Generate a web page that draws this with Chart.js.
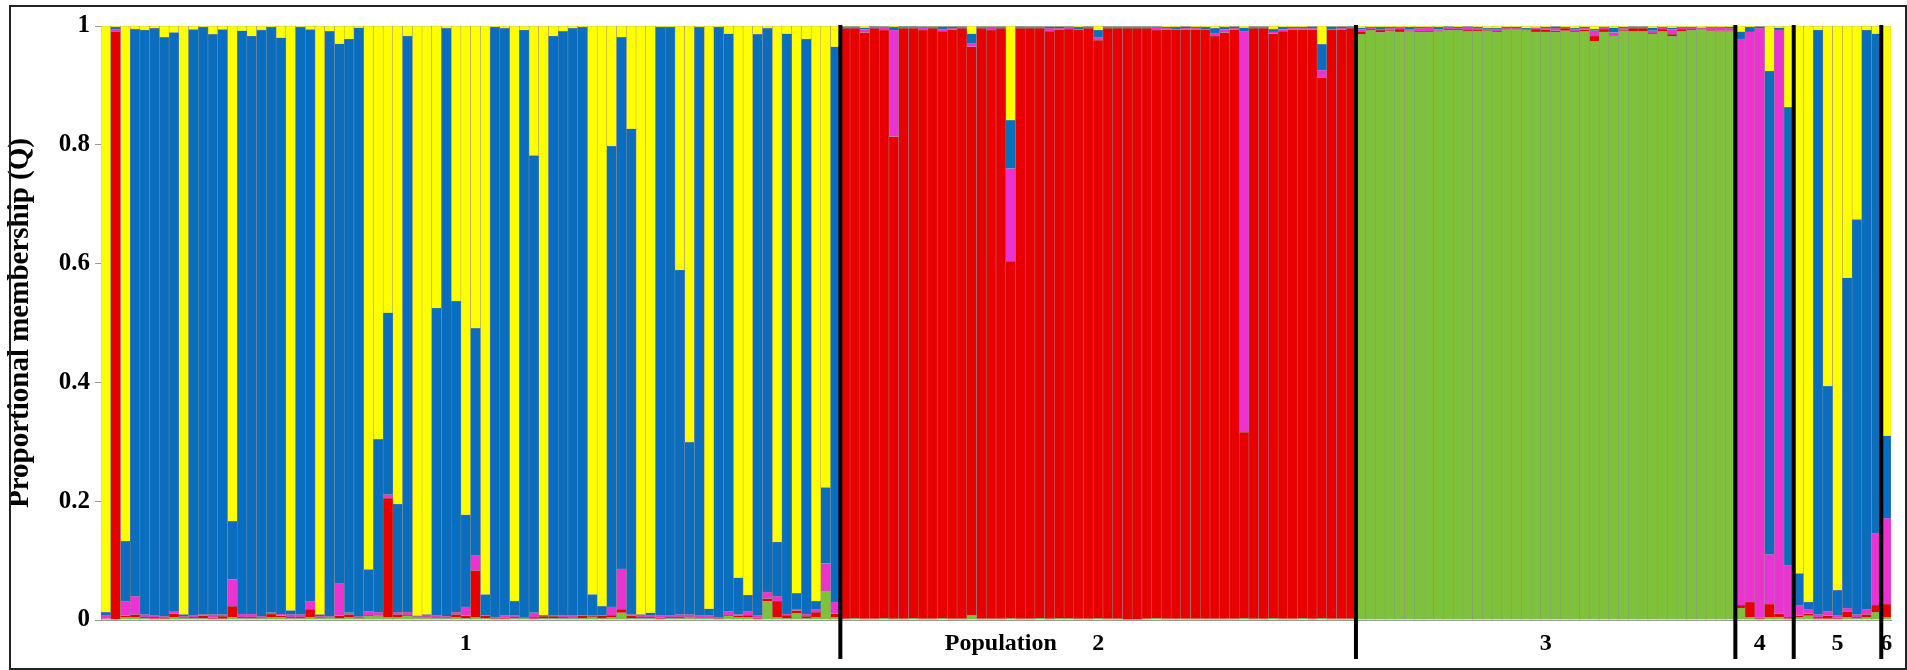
<!DOCTYPE html>
<html>
<head>
<meta charset="utf-8">
<title>Proportional membership (Q)</title>
<script src="https://cdn.jsdelivr.net/npm/chart.js@4.4.1/dist/chart.umd.min.js"></script>
<style>
    html, body { margin: 0; padding: 0; background: #fff; }
    #wrap { position: relative; width: 1907px; height: 670px; }
    #chartQ { position: absolute; left: 0; top: 0; }
    #frame { position: absolute; left: 9px; top: 5px; width: 1898px; height: 665px; box-sizing: border-box; border: 2px solid #222; pointer-events: none; }
</style>
</head>
<body>
<div id="wrap">
    <canvas id="chartQ" width="1907" height="670"></canvas>
    <div id="frame"></div>
</div>
<script>
// populations, in plot order, and how many individuals each one has
var popNames = ['1', '2', '3', '4', '5', '6'];
var popSizes = [76, 53, 39, 6, 9, 1];
var xTitle = 'Population';
var xTitleBar = 92;

// y axis tick labels
var yTicks = [0, 0.2, 0.4, 0.6, 0.8, 1];
var yTickText = ['0', '0.2', '0.4', '0.6', '0.8', '1'];

// membership of each individual in the 5 clusters (bottom to top of every bar)
var green = [
    .002, 0, .004, .004, .003, .002, .002, .004, .003, .003,
    .003, .002, .002, .005, .003, .003, .003, .004, .004, .003,
    .003, .004, .003, .004, .003, .004, .003, .007, .006, .004,
    .004, .007, .004, .004, .003, .003, .004, .003, .004, .003,
    .002, .002, .003, .003, .002, .003, .003, .003, .003, .003,
    .004, .003, .004, .012, .003, .003, .003, .002, .003, .003,
    .004, .003, .003, .002, .007, .004, .004, .002, .032, .004,
    .003, .011, .003, .004, .049, .004,
    // pop 2
    .002, .003, .002, .002, .003, .002, .002, .003, .002, .002, .003, .002, .002, .008, .002, .002, .002, .003,
    .002, .002, .003, .002, .003, .003, .002, .002, .003, .002, .002, .001, .001, .002, .003, .002, .002, .002,
    .002, .002, .002, .002, .002, .003, .002, .002, .003, .002, .002, .003, .002, .003, .002, .002, .002,
    // pop 3
    .986, .993, .989, .992, .99, .991, .99, .99, .991, .993, .993, .991, .991, .992, .99, .994, .994, .993, .99, .99,
    .99, .992, .99, .991, .974, .99, .983, .992, .991, .991, .987, .991, .983, .991, .993, .994, .992, .991, .991,
    // pop 4, 5, 6
    .02, .004, .002, .004, .005, .002,
    .004, .007, .002, .002, .002, .004, .003, .004, .013,
    .004
];
var red = [
    0, .99, .003, .005, .002, .003, .001, .007, .001, .002,
    .004, .002, .004, .018, .002, .002, .001, .006, .003, .002,
    .002, .014, .001, .001, .004, .005, .001, .001, .001, .201,
    .005, .001, .001, .001, .001, .001, .005, .004, .079, .004,
    .001, .002, .002, .001, .003, .003, .003, .002, .001, .004,
    .002, .004, .004, .006, .004, .002, .002, .002, .002, .002,
    .001, .001, .001, .001, .001, .003, .004, .002, .004, .028,
    .005, .005, .003, .009, 0, .007,
    .994, .993, .987, .994, .99, .812, .994, .993, .991, .994, .988, .992, .994, .957, .994, .991, .994, .601,
    .994, .994, .993, .989, .991, .992, .992, .994, .973, .994, .994, .995, .995, .994, .99, .992, .992, .992,
    .992, .992, .981, .987, .992, .313, .994, .994, .984, .989, .992, .991, .992, .91, .992, .992, .994,
    .004, .002, .004, .002, .005, .001, .001, .001, .001, .002, .002, .002, .002, .001, .001, .001, .001, .001, .005, .004,
    .002, .004, .001, .003, .009, .005, .001, .002, .005, .005, .001, .004, .003, .004, .002, .001, .001, .001, .001,
    .005, .026, .002, .023, .006, .003,
    .003, .004, .003, .005, .002, .01, .002, .005, .012,
    .023
];
var pink = [
    .005, .005, .025, .031, .004, .002, .003, .004, .002, .002,
    .002, .005, .003, .045, .005, .005, .002, .002, .003, .004,
    .004, .014, .002, .001, .054, .003, .002, .006, .006, .006,
    .004, .005, .001, .002, .004, .002, .004, .015, .025, .001,
    .002, .004, .003, .001, .007, .001, .002, .002, .003, .001,
    .002, .001, .014, .068, .002, .002, .003, .003, .003, .004,
    .004, .003, .003, .002, .006, .002, .007, .004, .011, .008,
    .002, .002, .004, .005, .046, .019,
    .001, .001, .005, .002, .004, .179, .002, .002, .004, .001, .004, .002, .001, .005, .001, .004, .001, .156,
    .002, .001, .001, .005, .002, .002, .001, .001, .005, .001, .001, .001, .001, .001, .004, .002, .001, .002,
    .002, .001, .005, .005, .002, .675, .001, .001, .003, .003, .002, .002, .002, .013, .001, .002, .002,
    .004, .002, .002, .002, .002, .003, .005, .006, .002, .002, .001, .004, .003, .002, .004, .001, .001, .001, .001, .002,
    .004, .001, .004, .002, .009, .002, .005, .002, .001, .001, .004, .002, .008, .002, .002, .001, .004, .005, .004,
    .953, .96, .992, .083, .982, .087,
    .018, .007, .004, .007, .003, .006, .004, .009, .121,
    .144
];
var blue = [
    .006, .003, .101, .955, .984, .989, .975, .974, .003, .987,
    .989, .977, .985, .098, .982, .973, .987, .986, .97, .007,
    .989, .962, .003, .985, .909, .966, .991, .071, .291, .306,
    .182, .97, .001, .002, .517, .99, .524, .155, .383, .035,
    .993, .988, .024, .988, .77, .001, .975, .984, .989, .99,
    .035, .015, .776, .895, .818, .002, .004, .991, .99, .58,
    .29, .991, .012, .993, .973, .062, .027, .978, .949, .091,
    .977, .027, .968, .014, .128, .935,
    .002, .002, .003, .001, .002, .005, .001, .001, .002, .002, .004, .003, .002, .017, .002, .002, .002, .081,
    .001, .002, .002, .003, .003, .002, .003, .002, .012, .002, .002, .002, .002, .002, .002, .002, .003, .003,
    .002, .003, .008, .004, .003, .006, .002, .002, .005, .004, .002, .002, .003, .043, .004, .003, .001,
    .003, .001, .003, .002, .001, .003, .002, .001, .004, .002, .002, .002, .002, .001, .001, .002, .002, .001, .001, .002,
    .003, .001, .001, .002, .003, .001, .008, .002, .002, .002, .005, .001, .003, .001, .001, .001, .001, .001, .002,
    .012, .008, .003, .814, .004, .771,
    .053, .012, .984, .38, .043, .556, .665, .975, .841,
    .139
];
var yellow = [
    .987, .002, .867, .005, .007, .004, .019, .011, .991, .006,
    .002, .014, .006, .834, .008, .017, .007, .002, .02, .984,
    .002, .006, .991, .009, .03, .022, .003, .915, .696, .483,
    .805, .017, .993, .991, .475, .004, .463, .823, .509, .957,
    .002, .004, .968, .007, .218, .992, .017, .009, .004, .002,
    .957, .977, .202, .019, .173, .991, .988, .002, .002, .411,
    .701, .002, .981, .002, .013, .929, .958, .014, .004, .869,
    .013, .955, .022, .968, .777, .035,
    .001, .001, .003, .001, .001, .002, .001, .001, .001, .001, .001, .001, .001, .013, .001, .001, .001, .159,
    .001, .001, .001, .001, .001, .001, .002, .001, .007, .001, .001, .001, .001, .001, .001, .002, .002, .001,
    .002, .002, .004, .002, .001, .003, .001, .001, .005, .002, .002, .002, .001, .031, .001, .001, .001,
    .003, .002, .002, .002, .002, .002, .002, .002, .002, .001, .002, .001, .002, .004, .004, .002, .002, .004, .003, .002,
    .001, .002, .004, .002, .005, .002, .003, .002, .001, .001, .003, .002, .003, .002, .002, .003, .002, .002, .002,
    .01, .002, .001, .076, .003, .137,
    .922, .97, .007, .606, .95, .424, .326, .007, .013,
    .69
];

var clusterColors = ['#7dc23a', '#e80000', '#ec32d0', '#0a6dbd', '#ffff00'];

// one label per individual, the axis only prints the population names
var sampleIds = [];
var xTickText = [];
var start = 0;
for (var p = 0; p < popSizes.length; p++) {
    for (var j = 0; j < popSizes[p]; j++) {
        sampleIds.push(String(start + j + 1));
        xTickText.push('');
    }
    xTickText[start + Math.floor((popSizes[p] - 1) / 2)] = popNames[p];
    start += popSizes[p];
}
xTickText[xTitleBar] = xTitle;

// black lines between the populations
var dividerPlugin = {
    id: 'popDividers',
    afterDatasetsDraw: function (chart) {
        var xs = chart.scales.x;
        var area = chart.chartArea;
        var c = chart.ctx;
        var end = 0;
        c.save();
        c.strokeStyle = '#000';
        c.lineWidth = 4;
        for (var k = 0; k < popSizes.length - 1; k++) {
            end += popSizes[k];
            var px = (xs.getPixelForValue(end - 1) + xs.getPixelForValue(end)) / 2;
            c.beginPath();
            c.moveTo(px, area.top - 1);
            c.lineTo(px, area.bottom + 39);
            c.stroke();
        }
        c.restore();
    }
};

Chart.defaults.font.family = '"Liberation Serif", "Times New Roman", serif';
Chart.defaults.color = '#000';

function makeSet(name, values, color) {
    return {
        label: name,
        data: values,
        backgroundColor: color,
        borderColor: '#8e8e8e',
        borderWidth: 0.5,
        categoryPercentage: 1.0,
        barPercentage: 1.0
    };
}

var ctx = document.getElementById('chartQ').getContext('2d');

var chart = new Chart(ctx, {
    type: 'bar',
    data: {
        labels: sampleIds,
        datasets: [
            makeSet('K1', green, clusterColors[0]),
            makeSet('K2', red, clusterColors[1]),
            makeSet('K3', pink, clusterColors[2]),
            makeSet('K4', blue, clusterColors[3]),
            makeSet('K5', yellow, clusterColors[4])
        ]
    },
    options: {
        responsive: false,
        animation: false,
        devicePixelRatio: 1,
        layout: { padding: { top: 26, right: 16, bottom: 0, left: 0 } },
        plugins: {
            legend: { display: false },
            tooltip: { enabled: false }
        },
        scales: {
            x: {
                stacked: true,
                offset: true,
                grid: { display: false, drawTicks: false },
                border: { display: true, color: '#9a9a9a' },
                ticks: {
                    autoSkip: false,
                    maxRotation: 0,
                    minRotation: 0,
                    padding: 9,
                    font: { size: 24, weight: 'bold' },
                    callback: function (value, index) { return xTickText[index]; }
                },
                afterFit: function (scale) { scale.height = 50; }
            },
            y: {
                stacked: true,
                min: 0,
                max: 1,
                afterBuildTicks: function (scale) {
                    scale.ticks = yTicks.map(function (v) { return { value: v }; });
                },
                ticks: {
                    padding: 5,
                    font: { size: 25, weight: 'bold' },
                    callback: function (value) { return yTickText[yTicks.indexOf(value)]; }
                },
                grid: { drawOnChartArea: false, drawTicks: true, tickLength: 6, color: '#9a9a9a' },
                border: { display: true, color: '#9a9a9a' },
                title: {
                    display: true,
                    text: 'Proportional membership (Q)',
                    font: { size: 29, weight: 'bold' },
                    padding: { top: 3, bottom: 0 }
                },
                afterFit: function (scale) { scale.width = 101; }
            }
        }
    },
    plugins: [dividerPlugin]
});
</script>
</body>
</html>
